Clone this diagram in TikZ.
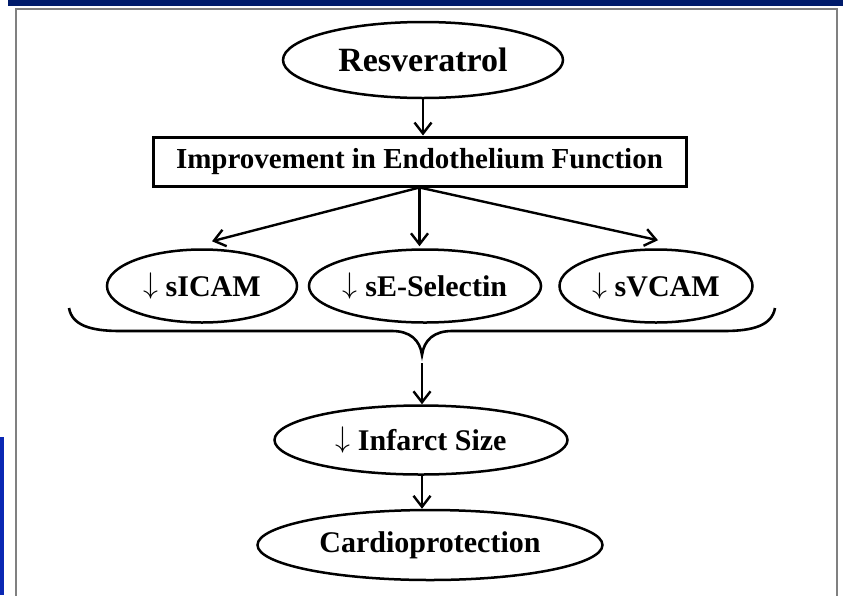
\documentclass[tikz,border=0pt]{standalone}
\usepackage{fontspec}
\setmainfont{Liberation Serif}
\usetikzlibrary{arrows.meta,positioning,calc,shapes.geometric}
\definecolor{sotetkek}{RGB}{0,27,107}
\definecolor{elenkkek}{RGB}{10,40,180}
\tikzset{
  ovalis/.style={draw,ellipse,line width=2.5pt,inner sep=0pt,font=\bfseries\fontsize{30}{32}\selectfont},
  keret/.style={draw,line width=3pt,inner sep=0pt,font=\bfseries\fontsize{29}{32}\selectfont},
  irany/.style={-{Straight Barb[length=11pt,width=17pt,line width=2.4pt]},line width=2.4pt},
  zarojel/.style={line width=2.6pt},
}
\newcommand{\csokk}{\raisebox{3pt}{\scalebox{1.2}{$\downarrow$}}\ }
\begin{document}
\begin{tikzpicture}[x=1pt,y=-1pt]
  \useasboundingbox (0,0) rectangle (843,595);
  % hatter
  \fill[sotetkek] (8,0) rectangle (843,6);
  \fill[elenkkek] (0,437) rectangle (4,595);
  \draw[gray,line width=1.6pt] (16,9) rectangle (837,600);
  % csomopontok
  \node[ovalis,minimum width=280pt,minimum height=76pt,font=\bfseries\fontsize{34}{36}\selectfont] (r) at (423,60) {Resveratrol};
  \node[keret,minimum width=533pt,minimum height=49pt] (e) at (419.5,161.5) {Improvement in Endothelium Function};
  \node[ovalis,minimum width=190pt,minimum height=73pt] (s1) at (202,286) {\csokk sICAM};
  \node[ovalis,minimum width=188pt,minimum height=73pt] (s2) at (425,286) {\csokk sE-Selectin};
  \node[ovalis,minimum width=193pt,minimum height=73pt] (s3) at (656,286) {\csokk sVCAM};
  \node[ovalis,minimum width=293pt,minimum height=69pt] (i) at (421,440) {\csokk Infarct Size};
  \node[ovalis,minimum width=345pt,minimum height=70pt] (c) at (430,545) {Cardioprotection};
  % zarojel
  \coordinate (csucs) at (422,355);
  \draw[zarojel] (69,308) .. controls (72,325) and (90,331) .. (120,331)
    -- (392,331) .. controls (410,331) and (420,340) .. (csucs)
    .. controls (424,340) and (434,331) .. (452,331)
    -- (724,331) .. controls (754,331) and (772,325) .. (775,308);
  % nyilak
  \draw[irany] (r.south) -- (r.south |- e.north);
  \draw[irany] (e.south) -- ([xshift=10pt,yshift=7pt]s1.north);
  \draw[irany] (e.south) -- ([yshift=2pt]e.south |- s2.north);
  \draw[irany] (e.south) -- ([xshift=2pt,yshift=8pt]s3.north);
  \draw[irany] ([yshift=-8pt]csucs) -- (csucs |- i.north);
  \draw[irany] (i.south -| csucs) -- (csucs |- c.north);
\end{tikzpicture}
\end{document}
